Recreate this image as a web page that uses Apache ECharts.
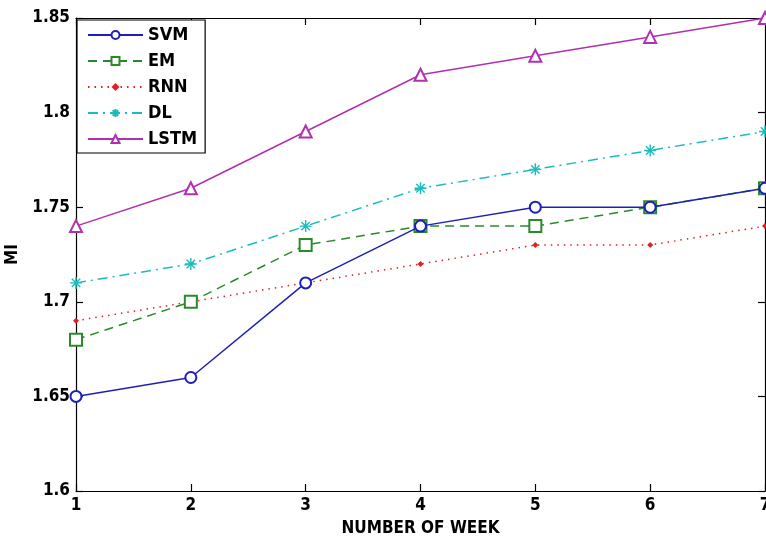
<!DOCTYPE html>
<html><head><meta charset="utf-8">
<script src="https://cdn.jsdelivr.net/npm/echarts@6/dist/echarts.min.js"></script>
<style>html,body{margin:0;padding:0;background:#fff}#c{width:766px;height:537px}</style>
</head><body><div id="c"></div>
<script>
const weeks = [1,2,3,4,5,6,7];
const svm  = [1.65,1.66,1.71,1.74,1.75,1.75,1.76];
const em   = [1.68,1.70,1.73,1.74,1.74,1.75,1.76];
const rnn  = [1.69,1.70,1.71,1.72,1.73,1.73,1.74];
const dl   = [1.71,1.72,1.74,1.76,1.77,1.78,1.79];
const lstm = [1.74,1.76,1.79,1.82,1.83,1.84,1.85];
const yTicks = [1.6,1.65,1.7,1.75,1.8,1.85];

const FONT = '"DejaVu Sans Condensed","Liberation Sans Narrow","Arial Narrow",sans-serif';
const pair = arr => weeks.map((w,i)=>[w,arr[i]]);
const star = 'path://M0,-10L0,10M-10,0L10,0M-7,-7L7,7M-7,7L7,-7';

const chart = echarts.init(document.getElementById('c'));
const axisCommon = {
  axisLine:{show:true,onZero:false,lineStyle:{color:'#000',width:1.2}},
  axisTick:{show:true,inside:true,length:7,lineStyle:{color:'#000',width:1.2}},
  splitLine:{show:false}
};
chart.setOption({
  animation:false,
  backgroundColor:'#fff',
  grid:{left:76,right:1,top:18,bottom:46,containLabel:false,outerBoundsMode:'none'},
  legend:{
    orient:'vertical', left:77, top:20,
    padding:[6,8,5,10], itemGap:8, itemWidth:55, itemHeight:10,
    borderColor:'#000', borderWidth:1.2, backgroundColor:'#fff',
    textStyle:{fontFamily:FONT,fontWeight:'bold',fontSize:18,color:'#000'},
    data:['SVM','EM','RNN','DL','LSTM']
  },
  xAxis:[
    Object.assign({type:'value',min:1,max:7,interval:1,position:'bottom',
      name:'NUMBER OF WEEK',nameLocation:'middle',nameGap:29,
      nameTextStyle:{fontFamily:FONT,fontWeight:'bold',fontSize:17,color:'#000'},
      axisLabel:{fontFamily:FONT,fontWeight:'bold',fontSize:17,color:'#000',margin:6,showMaxLabel:true}},axisCommon),
    Object.assign({type:'value',min:1,max:7,interval:1,position:'top',axisLabel:{show:false}},axisCommon)
  ],
  yAxis:[
    Object.assign({type:'value',min:1.6,max:1.85,interval:0.05,position:'left',
      name:'MI',nameLocation:'middle',nameGap:54,
      nameTextStyle:{fontFamily:FONT,fontWeight:'bold',fontSize:17,color:'#000'},
      axisLabel:{fontFamily:FONT,fontWeight:'bold',fontSize:17,color:'#000',margin:6,
        formatter:v=>{const t=yTicks.find(x=>Math.abs(x-v)<1e-6);return t===undefined?'':String(t);}}},axisCommon),
    Object.assign({type:'value',min:1.6,max:1.85,interval:0.05,position:'right',axisLabel:{show:false}},axisCommon)
  ],
  series:[
    {name:'SVM',type:'line',data:pair(svm),symbol:'emptyCircle',symbolSize:11,
      lineStyle:{color:'#1f1fb8',width:1.5},itemStyle:{color:'#1f1fb8',borderWidth:1.4},z:5},
    {name:'EM',type:'line',data:pair(em),symbol:'emptyRect',symbolSize:12,
      lineStyle:{color:'#2a8a2a',width:1.5,type:[9,6]},itemStyle:{color:'#2a8a2a',borderWidth:1.4},z:4},
    {name:'RNN',type:'line',data:pair(rnn),symbol:'diamond',symbolSize:6,
      lineStyle:{color:'#e02020',width:1.5,type:[1.5,5]},itemStyle:{color:'#e02020'},z:3},
    {name:'DL',type:'line',data:pair(dl),symbol:star,symbolSize:12,
      lineStyle:{color:'#1cbcbc',width:1.5,type:[10,5,2,5]},itemStyle:{color:'#1cbcbc',borderColor:'#1cbcbc',borderWidth:1.4},z:3},
    {name:'LSTM',type:'line',data:pair(lstm),symbol:'emptyTriangle',symbolSize:12,
      lineStyle:{color:'#b030b0',width:1.5},itemStyle:{color:'#b030b0',borderWidth:1.4},z:3}
  ]
});
</script></body></html>
